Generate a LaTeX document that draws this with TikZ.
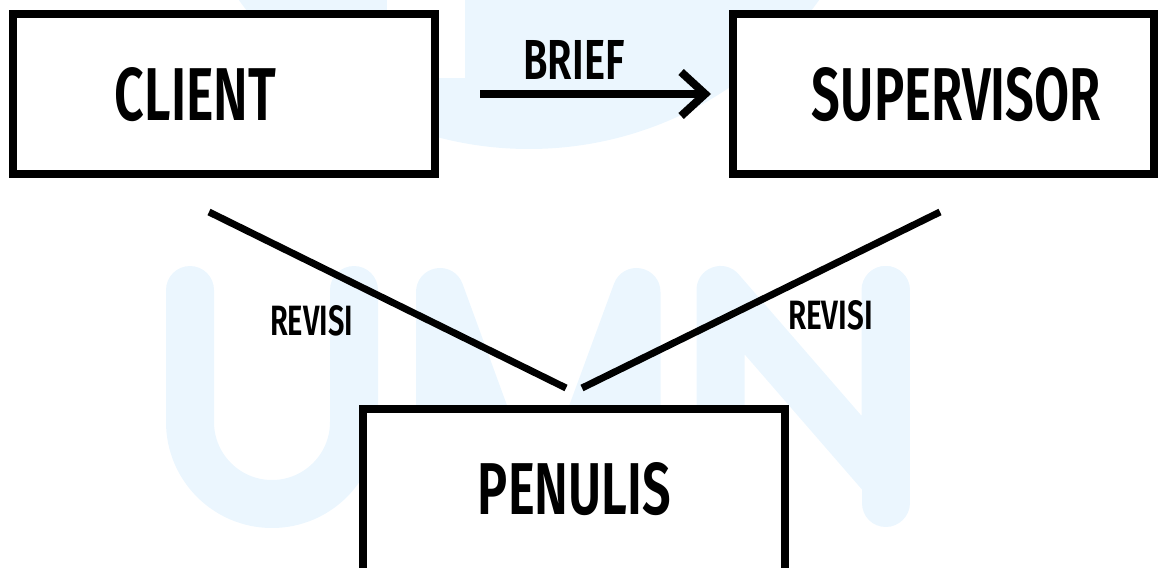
\documentclass[tikz,border=0pt]{standalone}
\usepackage{graphicx}
\usepackage{fontspec}
\usetikzlibrary{arrows.meta}

\newfontfamily\labelfont[UprightFont={* Medium}, BoldFont={* SemiBold}]{Fira Sans}
\definecolor{umnblue}{RGB}{235,246,254}
% squeezed caps text of given width and height
\newcommand{\boxtext}[3]{\resizebox{#1pt}{#2pt}{\labelfont\bfseries #3}}

\begin{document}
\begin{tikzpicture}[
    x=1pt, y=-1pt,
    box/.style={draw, line width=8pt, fill=white, inner sep=0pt},
    lbl/.style={inner sep=0pt},
    link/.style={line width=7pt}
    ]
    \useasboundingbox (0,0) rectangle (1158,567);
    \clip (0,0) rectangle (1158,567);

    % watermark
    \begin{scope}[umnblue]
      \fill (529,-208) circle (357);
      \fill[white] (387,-5) rectangle (465,78);
      \begin{scope}[line width=48pt, line cap=round, line join=round]
        \draw (190,290) -- (190,422) arc (180:0:82) -- (354,290);
        \draw (440,580) -- (440,292) -- (538,560) -- (636.5,292) -- (636.5,580);
        \draw (720.5,580) -- (720.5,290) -- (885.5,480) -- (885.5,290);
        \draw (885.5,290) -- (885.5,503);
      \end{scope}
    \end{scope}

    \node[box, minimum width=422pt, minimum height=160pt] (client) at (224,94) {};
    \node[box, minimum width=421pt, minimum height=160pt] (supervisor) at (943.5,94) {};
    \node[box, minimum width=422pt, minimum height=163pt] (penulis) at (574,490.5) {};

    \node[lbl] (clientlbl) at (195.5,94.5) {\boxtext{161}{53}{CLIENT}};
    \node[lbl] (supervisorlbl) at (956.5,94.5) {\boxtext{289}{53}{SUPERVISOR}};
    \node[lbl] (penulislbl) at (574.5,489) {\boxtext{193}{52}{PENULIS}};

    \draw[line width=8pt, -{Straight Barb[length=24pt, width=44pt]},
          shorten <=41pt, shorten >=18pt] (client) -- (supervisor);
    \node[lbl] (brief) at (574,60) {\boxtext{101}{39}{BRIEF}};

    \coordinate (clientfoot) at (209,212);
    \coordinate (supervisorfoot) at (940,212);
    \coordinate (penulisleft) at (566,388);
    \coordinate (penulisright) at (582,388);
    \draw[link] (clientfoot) -- (penulisleft);
    \draw[link] (supervisorfoot) -- (penulisright);

    \node[lbl] (revisileft) at (311.5,321) {\boxtext{83}{30}{REVISI}};
    \node[lbl] (revisiright) at (830.5,315.5) {\boxtext{85}{29}{REVISI}};

\end{tikzpicture}
\end{document}
